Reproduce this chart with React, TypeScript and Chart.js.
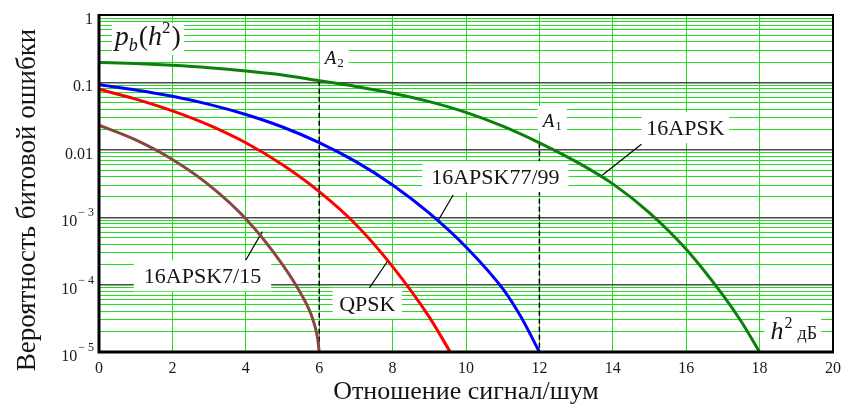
import React, { useEffect, useRef } from 'react';
import { Chart, registerables } from 'chart.js';

Chart.register(...registerables);

// ---------------- data ----------------
const xTickValues = [0, 2, 4, 6, 8, 10, 12, 14, 16, 18, 20];
const yDecadeValues = [1, 0.1, 0.01, 1e-3, 1e-4, 1e-5];
const yDecadeMantissa = ['1', '0.1', '0.01', '10', '10', '10'];
const yDecadeExponent = ['', '', '', '\u2212 3', '\u2212 4', '\u2212 5'];

const snr16apsk = [0, 1, 2, 3, 4, 5, 6, 7, 8, 9, 10, 11, 12, 13, 14, 15, 16, 17, 17.5, 18];
const ber16apsk = [0.198, 0.19, 0.179, 0.165, 0.148, 0.129, 0.106, 0.0871, 0.0692, 0.0519, 0.0359, 0.0224, 0.0127, 0.00667, 0.00312, 0.00116, 3.34e-4, 6.98e-5, 2.84e-5, 1e-5];

const snr16apsk7799 = [0, 1, 2, 3, 4, 5, 6, 7, 8, 9, 10, 11, 11.5, 12];
const ber16apsk7799 = [0.092, 0.0774, 0.0622, 0.0472, 0.0334, 0.0218, 0.0128, 0.00667, 0.00301, 0.00115, 3.62e-4, 8.7e-5, 3.3e-5, 1e-5];

const snrQpsk = [0, 1, 2, 3, 4, 5, 6, 7, 8, 9, 9.57];
const berQpsk = [0.079, 0.0565, 0.0378, 0.0232, 0.0127, 0.006, 0.0024, 7.8e-4, 1.85e-4, 3.3e-5, 1e-5];

const snr16apsk715 = [0, 1, 2, 3, 4, 5, 5.5, 5.8, 5.95, 6];
const ber16apsk715 = [0.0232, 0.014, 0.00718, 0.00299, 9.46e-4, 1.98e-4, 7.34e-5, 3.36e-5, 1.68e-5, 1e-5];

// marker lines A2 (x=6) and A1 (x=12)
const markerX = [6, 12];
const markerTop = [0.106, 0.0127];
const markerSub = ['2', '1'];

const curveLabelText = ['16APSK', '16APSK77/99', '16APSK7/15', 'QPSK'];

const yTitle = 'Вероятность битовой ошибки';
const xTitle = 'Отношение сигнал/шум';

// ---------------- annotation layout (data coordinates) ----------------
const curveLabelPlace = [
  { x: 15.98, y: 0.0214, padX: 4.5 },
  { x: 10.8, y: 0.004, padX: 9 },
  { x: 2.82, y: 1.35e-4, padX: 10 },
  { x: 7.31, y: 5.27e-5, padX: 6.5 },
];
const pointerFrom = [
  { x: 14.78, y: 0.0121 },
  { x: 9.65, y: 0.00213 },
  { x: 3.99, y: 2.26e-4 },
  { x: 7.36, y: 8.8e-5 },
];
const pointerTo = [
  { x: 13.66, y: 0.00399 },
  { x: 9.25, y: 9.1e-4 },
  { x: 4.45, y: 6.1e-4 },
  { x: 7.87, y: 2.26e-4 },
];
const markerLabelPlace = [
  { x: 6.15, y: 0.187 },
  { x: 12.09, y: 0.0218 },
];
const pbPlace = { x: 0.43, y: 0.359 };
const unitPlace = { x: 18.3, y: 1.56e-5 };

const SERIF = '"Liberation Serif", "Times New Roman", serif';
const GREEN_GRID = '#22dd22';

type Seg = { t: string; font: string; dy?: number; dx?: number };

function richWidth(ctx: CanvasRenderingContext2D, segs: Seg[]) {
  let w = 0;
  for (const s of segs) {
    ctx.font = s.font;
    w += ctx.measureText(s.t).width + (s.dx || 0);
  }
  return w;
}
function drawRich(ctx: CanvasRenderingContext2D, x: number, y: number, segs: Seg[]) {
  let cx = x;
  for (const s of segs) {
    ctx.font = s.font;
    ctx.fillText(s.t, cx, y + (s.dy || 0));
    cx += ctx.measureText(s.t).width + (s.dx || 0);
  }
  return cx - x;
}

function isDecade(v: number) {
  const l = Math.log10(v);
  return Math.abs(l - Math.round(l)) < 1e-9;
}

const yGridValues: number[] = (() => {
  const out: number[] = [];
  for (let k = -5; k <= -1; k++) {
    for (let m = 1; m <= 9; m++) out.push(parseFloat((m * Math.pow(10, k)).toPrecision(6)));
  }
  out.push(1);
  return out;
})();

const decor = {
  id: 'decor',
  afterDatasetsDraw(chart: any) {
    const { ctx, chartArea: a, scales } = chart;
    const x = scales.x;
    const y = scales.y;
    ctx.save();
    ctx.textAlign = 'left';
    ctx.textBaseline = 'alphabetic';

    // curve labels with white boxes
    curveLabelText.forEach((text, i) => {
      const p = curveLabelPlace[i];
      const cx = x.getPixelForValue(p.x);
      const cy = y.getPixelForValue(p.y);
      ctx.font = `22px ${SERIF}`;
      const w = ctx.measureText(text).width;
      ctx.fillStyle = '#ffffff';
      ctx.fillRect(cx - w / 2 - p.padX, cy - 15.5, w + 2 * p.padX, 31);
      ctx.fillStyle = '#151515';
      ctx.fillText(text, cx - w / 2, cy + 7.5);
    });

    // marker labels A2, A1
    markerLabelPlace.forEach((p, i) => {
      const bx = x.getPixelForValue(p.x);
      const by = y.getPixelForValue(p.y);
      const segs: Seg[] = [
        { t: 'A', font: `italic 19px ${SERIF}`, dx: 1 },
        { t: markerSub[i], font: `13px ${SERIF}`, dy: 3 },
      ];
      const w = richWidth(ctx, segs);
      ctx.fillStyle = '#ffffff';
      ctx.fillRect(bx - 5, by - 21, w + 10, 27);
      ctx.fillStyle = '#151515';
      drawRich(ctx, bx, by, segs);
    });

    // p_b(h^2)
    {
      const bx = x.getPixelForValue(pbPlace.x);
      const by = y.getPixelForValue(pbPlace.y);
      const segs: Seg[] = [
        { t: 'p', font: `italic 28px ${SERIF}` },
        { t: 'b', font: `italic 18px ${SERIF}`, dy: 6, dx: 1 },
        { t: '(', font: `28px ${SERIF}` },
        { t: 'h', font: `italic 28px ${SERIF}` },
        { t: '2', font: `17px ${SERIF}`, dy: -12, dx: 1 },
        { t: ')', font: `28px ${SERIF}` },
      ];
      const w = richWidth(ctx, segs);
      ctx.fillStyle = '#ffffff';
      ctx.fillRect(bx - 3, by - 22, w + 6, 32);
      ctx.fillStyle = '#151515';
      drawRich(ctx, bx, by, segs);
    }

    // h^2 dB
    {
      const bx = x.getPixelForValue(unitPlace.x);
      const by = y.getPixelForValue(unitPlace.y);
      const segs: Seg[] = [
        { t: 'h', font: `italic 26px ${SERIF}`, dx: 1 },
        { t: '2', font: `16px ${SERIF}`, dy: -11, dx: 5 },
        { t: 'дБ', font: `18px ${SERIF}` },
      ];
      const w = richWidth(ctx, segs);
      ctx.fillStyle = '#ffffff';
      ctx.fillRect(bx - 6, by - 24, w + 10, 30);
      ctx.fillStyle = '#151515';
      drawRich(ctx, bx, by, segs);
    }

    // frame
    ctx.strokeStyle = '#000000';
    ctx.lineWidth = 2;
    ctx.beginPath();
    ctx.moveTo(a.left, a.top);
    ctx.lineTo(a.right, a.top);
    ctx.lineTo(a.right, a.bottom);
    ctx.stroke();
    ctx.lineWidth = 3;
    ctx.beginPath();
    ctx.moveTo(a.left, a.top - 1);
    ctx.lineTo(a.left, a.bottom);
    ctx.lineTo(a.right + 1, a.bottom);
    ctx.stroke();
    ctx.restore();
  },
  afterDraw(chart: any) {
    const { ctx, chartArea: a, scales } = chart;
    const y = scales.y;
    ctx.save();
    ctx.fillStyle = '#1a1a1a';
    ctx.textBaseline = 'alphabetic';
    ctx.textAlign = 'left';
    yDecadeValues.forEach((v, i) => {
      const py = y.getPixelForValue(v);
      const segs: Seg[] = [{ t: yDecadeMantissa[i], font: `16px ${SERIF}`, dx: 1 }];
      if (yDecadeExponent[i]) segs.push({ t: yDecadeExponent[i], font: `12px ${SERIF}`, dy: -10 });
      const w = richWidth(ctx, segs);
      drawRich(ctx, a.left - 5 - w, py + 9, segs);
    });
    // y title
    ctx.translate(28, 200);
    ctx.rotate(-Math.PI / 2);
    ctx.textAlign = 'center';
    ctx.textBaseline = 'middle';
    ctx.font = `27px ${SERIF}`;
    ctx.fillStyle = '#151515';
    ctx.fillText(yTitle, 0, 0);
    ctx.restore();
  },
};

function pts(xs: number[], ys: number[]) {
  return xs.map((xv, i) => ({ x: xv, y: ys[i] }));
}

export default function App() {
  const ref = useRef<HTMLCanvasElement>(null);
  useEffect(() => {
    const curve = (xs: number[], ys: number[], color: string) => ({
      data: pts(xs, ys),
      borderColor: color,
      borderWidth: 3,
      cubicInterpolationMode: 'monotone' as const,
      pointRadius: 0,
      fill: false,
    });
    const datasets: any[] = [
      curve(snr16apsk, ber16apsk, '#0b800b'),
      curve(snr16apsk7799, ber16apsk7799, '#0000ff'),
      curve(snrQpsk, berQpsk, '#ff0000'),
      curve(snr16apsk715, ber16apsk715, '#8b4545'),
    ];
    markerX.forEach((mx, i) => {
      datasets.push({
        data: [{ x: mx, y: markerTop[i] }, { x: mx, y: 1e-5 }],
        borderColor: '#000000',
        borderWidth: 1.5,
        borderDash: [5, 3],
        pointRadius: 0,
        fill: false,
        order: 5,
      });
    });
    pointerFrom.forEach((p, i) => {
      datasets.push({
        data: [p, pointerTo[i]],
        borderColor: '#000000',
        borderWidth: 1.2,
        pointRadius: 0,
        fill: false,
      });
    });

    const chart = new Chart(ref.current as HTMLCanvasElement, {
      type: 'line',
      data: { datasets },
      options: {
        responsive: false,
        animation: false,
        layout: { padding: { left: 0, right: 8, top: 15, bottom: 0 } },
        plugins: { legend: { display: false }, tooltip: { enabled: false } },
        scales: {
          x: {
            type: 'linear',
            min: 0,
            max: 20,
            afterBuildTicks: (s: any) => {
              s.ticks = xTickValues.map((v) => ({ value: v }));
            },
            afterFit: (s: any) => {
              s.height = 53;
            },
            grid: {
              color: (c: any) =>
                c.tick && (c.tick.value === 0 || c.tick.value === 20) ? 'rgba(0,0,0,0)' : GREEN_GRID,
              lineWidth: 1,
              drawTicks: false,
            },
            border: { display: false },
            ticks: {
              padding: 7,
              color: '#1a1a1a',
              font: { family: SERIF, size: 16 },
              maxRotation: 0,
              autoSkip: false,
            },
            title: {
              display: true,
              text: xTitle,
              color: '#151515',
              font: { family: SERIF, size: 26, lineHeight: 1 },
              padding: { top: 0, bottom: 0 },
            },
          },
          y: {
            type: 'logarithmic',
            min: 1e-5,
            max: 1,
            afterBuildTicks: (s: any) => {
              s.ticks = yGridValues.map((v) => ({ value: v, major: isDecade(v) }));
            },
            afterFit: (s: any) => {
              s.width = 99;
            },
            grid: {
              color: (c: any) => {
                const v = c.tick ? c.tick.value : 0;
                if (v >= 0.999 || v <= 1.0001e-5) return 'rgba(0,0,0,0)';
                return isDecade(v) ? '#4a4a4a' : GREEN_GRID;
              },
              lineWidth: (c: any) => (c.tick && isDecade(c.tick.value) ? 1.4 : 1),
              drawTicks: false,
            },
            border: { display: false },
            ticks: { display: false },
          },
        },
      } as any,
      plugins: [decor],
    });
    return () => chart.destroy();
  }, []);
  return (
    <div style={{ position: 'absolute', left: 0, top: 0, width: 848, height: 405, background: '#ffffff' }}>
      <canvas ref={ref} width={848} height={405} style={{ display: 'block' }} />
    </div>
  );
}
